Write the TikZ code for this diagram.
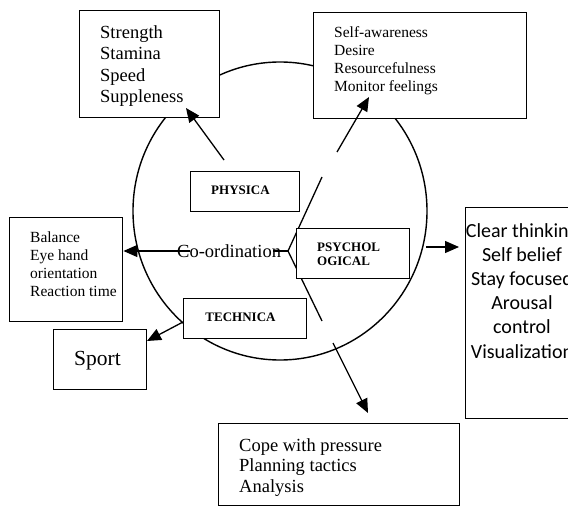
\documentclass[tikz,border=0pt]{standalone}
\usepackage{fontspec}
\setmainfont{Liberation Serif}
\newfontfamily\calfont{Carlito}
\usetikzlibrary{arrows.meta,shapes.geometric}
\begin{document}
\begin{tikzpicture}[x=1pt,y=-1pt,
  box/.style={draw,line width=1.4pt,fill=white,rectangle,inner sep=0pt,anchor=north west},
  lbl/.style={inner sep=0pt,anchor=base west},
  arr/.style={line width=1.3pt,-{Triangle[length=14pt,width=12pt]}},
  ln/.style={line width=1.3pt},
  big/.style={font=\fontsize{18.5}{22}\selectfont},
  mid/.style={font=\fontsize{15.5}{18}\selectfont},
  tag/.style={inner sep=0pt,anchor=base,font=\fontsize{13}{14}\selectfont\bfseries}]
\useasboundingbox (0,0) rectangle (568,506);
\clip (0,0) rectangle (568,506);
\fill[white] (0,0) rectangle (568,506);
% ring
\node[draw,ellipse,line width=1.4pt,minimum width=294pt,minimum height=298pt,inner sep=0pt] (ring) at (280,211) {};
% V lines
\coordinate (v1) at (322,177);
\coordinate (vx) at (288,251);
\coordinate (v2) at (322,321);
\coordinate (thk) at (273,251);
\draw[ln] (v1) -- (vx) -- (v2);
% boxes
\node[box,minimum width=140pt,minimum height=107pt] (strbox) at (79,10) {};
\node[box,minimum width=213pt,minimum height=106pt] (selfbox) at (313,12) {};
\node[box,minimum width=109pt,minimum height=40pt] (phybox) at (190,171) {};
\node[box,minimum width=113pt,minimum height=50pt] (psybox) at (296,228) {};
\node[box,minimum width=123pt,minimum height=40pt] (tecbox) at (183,298) {};
\node[box,minimum width=113pt,minimum height=104pt] (balbox) at (9,217) {};
\node[box,minimum width=93pt,minimum height=60pt] (spbox) at (53,329) {};
\node[box,minimum width=241pt,minimum height=82pt] (copebox) at (218,423) {};
\node[box,minimum width=115pt,minimum height=211pt] (clrbox) at (465,207) {};
% texts
\foreach \t [count=\i from 0] in {Strength,Stamina,Speed,Suppleness}
  \node[lbl,big] (str\i) at (100,{38+21.5*\i}) {\t};
\foreach \t [count=\i from 0] in {Self-awareness,Desire,Resourcefulness,Monitor feelings}
  \node[lbl,mid] (self\i) at (334,{37+18.3*\i}) {\t};
\foreach \t [count=\i from 0] in {Balance,Eye hand,orientation,Reaction time}
  \node[lbl,mid] (bal\i) at (30,{242+18.3*\i}) {\t};
\foreach \t [count=\i from 0] in {Cope with pressure,Planning tactics,Analysis}
  \node[lbl,big] (cope\i) at (239,{451+20.5*\i}) {\t};
\foreach \t [count=\i from 0] in {Clear thinking,Self belief,Stay focused,Arousal,control,Visualization}
  \node[inner sep=0pt,anchor=base,font=\calfont\fontsize{20}{22}\selectfont] (clr\i) at (522,{237+24.2*\i}) {\t};
\node[tag] (phy) at (240.5,194) {PHYSICA};
\node[tag] (tec) at (240.5,321) {TECHNICA};
\node[lbl,font=\fontsize{13}{14}\selectfont\bfseries] (psy1) at (317,251) {PSYCHOL};
\node[lbl,font=\fontsize{13}{14}\selectfont\bfseries] (psy2) at (317,265) {OGICAL};
\node[lbl,font=\fontsize{21.5}{24}\selectfont] (sport) at (74,365) {Sport};
\node[lbl,big] (coord) at (177,257) {Co-ordination};
% thick stub
\draw[line width=2.6pt] (thk) -- (vx);
% arrows
\coordinate (pa) at (224,160);
\coordinate (pb) at (186,108);
\draw[arr] (pa) -- (pb);
\coordinate (sa) at (337,152);
\coordinate (sb) at (369,97);
\draw[arr] (sa) -- (sb);
\coordinate (ca) at (190,251);
\draw[arr] (ca) -- (balbox.east |- ca);
\coordinate (qa) at (426,247);
\coordinate (qb) at (459,247);
\draw[arr] (qa) -- (qb);
\coordinate (ta) at (183,322);
\coordinate (tb) at (147,341);
\draw[arr] (ta) -- (tb);
\coordinate (ka) at (333,343);
\coordinate (kb) at (368,413);
\draw[arr] (ka) -- (kb);
\end{tikzpicture}
\end{document}
